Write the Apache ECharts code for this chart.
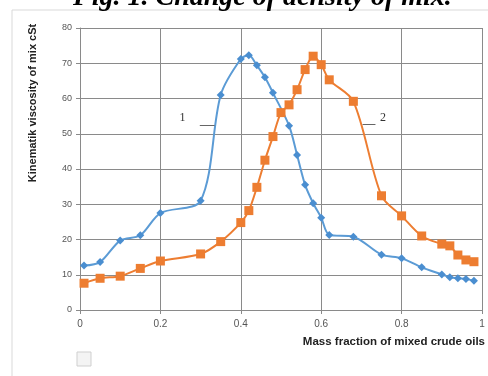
<!DOCTYPE html>
<html><head><meta charset="utf-8">
<script src="https://cdn.jsdelivr.net/npm/echarts@6/dist/echarts.min.js"></script>
<style>html,body{margin:0;padding:0;background:#fff}#c{width:488px;height:376px}</style>
</head><body><div id="c"></div>
<script>
const titleText = "Fig. 1. Change of density of mix.";
const xAxisName = "Mass fraction of mixed crude oils";
const yAxisName = "Kinematik viscosity of mix cSt";
const xTicks = ["0", "0.2", "0.4", "0.6", "0.8", "1"];
const s1x = [0.01,0.05,0.10,0.15,0.20,0.30,0.35,0.40,0.42,0.44,0.46,0.48,0.52,0.54,0.56,0.58,0.60,0.62,0.68,0.75,0.80,0.85,0.90,0.92,0.94,0.96,0.98];
const s1y = [12.6,13.6,19.7,21.2,27.5,31.0,61.0,71.2,72.3,69.4,66.0,61.6,52.3,44.0,35.5,30.3,26.2,21.3,20.8,15.7,14.7,12.1,10.1,9.3,9.0,8.8,8.3];
const s2x = [0.01,0.05,0.10,0.15,0.20,0.30,0.35,0.40,0.42,0.44,0.46,0.48,0.50,0.52,0.54,0.56,0.58,0.60,0.62,0.68,0.75,0.80,0.85,0.90,0.92,0.94,0.96,0.98];
const s2y = [7.6,9.0,9.6,11.8,13.9,15.9,19.4,24.8,28.2,34.8,42.5,49.2,56.0,58.2,62.5,68.2,72.0,69.6,65.3,59.2,32.4,26.7,21.0,18.7,18.2,15.6,14.2,13.7];
const labels = ["1", "2"];

const chart = echarts.init(document.getElementById('c'));
const pair = (xs, ys) => xs.map((x, i) => [x, ys[i]]);
const annot = (coord, text) => ({
  coord: coord, symbol: 'circle', symbolSize: 1, itemStyle: {color: 'rgba(0,0,0,0)'},
  label: {show: true, position: 'inside', formatter: text, fontFamily: 'Liberation Serif', fontSize: 12, color: '#333'}
});
chart.setOption({
  animation: false,
  title: {
    text: titleText, left: 68, top: -21,
    textStyle: {fontFamily: 'Liberation Serif', fontStyle: 'italic', fontWeight: 'bold', fontSize: 28, color: '#000'}
  },
  graphic: [
    {type: 'rect', shape: {x: 12, y: 10, width: 490, height: 400}, style: {fill: 'none', stroke: '#d9d9d9', lineWidth: 1}, z: -1},
    {type: 'rect', shape: {x: 77, y: 352, width: 14, height: 14}, style: {fill: '#f4f4f4', stroke: '#cfcfcf', lineWidth: 1}},
    {type: 'text', x: 33, y: 103, rotation: Math.PI / 2,
      style: {text: yAxisName, fontFamily: 'Liberation Sans', fontWeight: 'bold', fontSize: 11, fill: '#222', textAlign: 'center', textVerticalAlign: 'middle'}}
  ],
  grid: {left: 80, right: 5, top: 28, bottom: 66},
  xAxis: {
    type: 'value', min: 0, max: 1, interval: 0.2,
    name: xAxisName, nameLocation: 'end', nameGap: 0,
    nameTextStyle: {fontFamily: 'Liberation Sans', fontWeight: 'bold', fontSize: 11.5, color: '#222', align: 'right', verticalAlign: 'top', padding: [26, -3, 0, 0]},
    axisLine: {lineStyle: {color: '#8a8a8a'}},
    axisTick: {show: true, length: 4, lineStyle: {color: '#8a8a8a'}},
    axisLabel: {fontFamily: 'Liberation Sans', fontSize: 10, color: '#555', margin: 9,
      formatter: v => xTicks[Math.round(v / 0.2)]},
    splitLine: {show: true, lineStyle: {color: '#8a8a8a', width: 1}}
  },
  yAxis: {
    type: 'value', min: 0, max: 80, interval: 10,
    axisLine: {show: true, lineStyle: {color: '#8a8a8a'}},
    axisTick: {show: true, length: 4, lineStyle: {color: '#8a8a8a'}},
    axisLabel: {fontFamily: 'Liberation Sans', fontSize: 9, color: '#555', margin: 8},
    splitLine: {show: true, lineStyle: {color: '#8a8a8a', width: 1}}
  },
  series: [
    {
      type: 'line', data: pair(s1x, s1y), smooth: 0.3,
      symbol: 'diamond', symbolSize: 8,
      lineStyle: {color: '#5b9bd5', width: 2},
      itemStyle: {color: '#4a8ed0'},
      markLine: {silent: true, symbol: 'none', label: {show: false}, lineStyle: {color: '#666', width: 1, type: 'solid'},
        data: [[{coord: [0.298, 52.5]}, {coord: [0.335, 52.5]}]]},
      markPoint: {silent: true, data: [annot([0.255, 54.5], labels[0])]}
    },
    {
      type: 'line', data: pair(s2x, s2y), smooth: 0.3,
      symbol: 'rect', symbolSize: 9,
      lineStyle: {color: '#ed7d31', width: 2},
      itemStyle: {color: '#ed7d31'},
      markLine: {silent: true, symbol: 'none', label: {show: false}, lineStyle: {color: '#666', width: 1, type: 'solid'},
        data: [[{coord: [0.703, 52.8]}, {coord: [0.735, 52.8]}]]},
      markPoint: {silent: true, data: [annot([0.754, 54.5], labels[1])]}
    }
  ]
});
</script></body></html>
